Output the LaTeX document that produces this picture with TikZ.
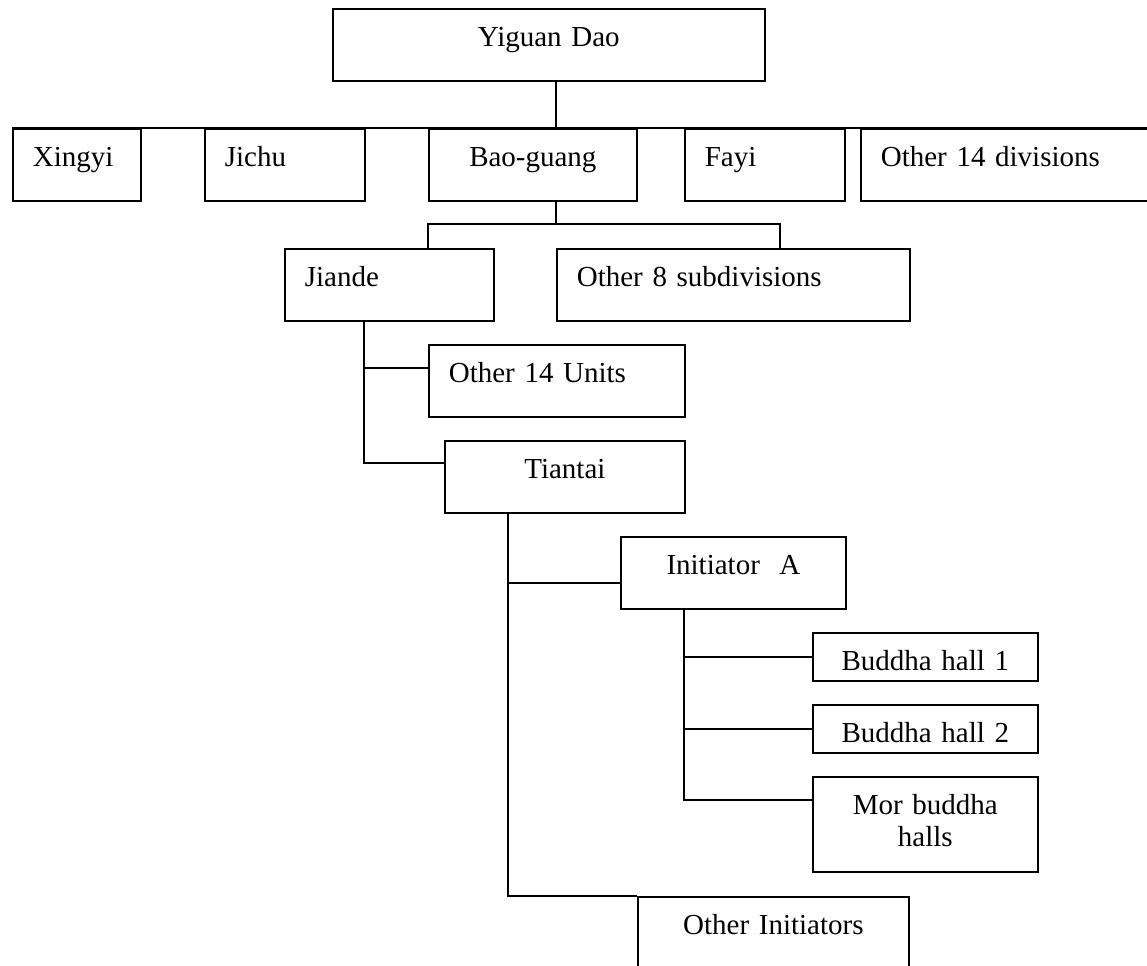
\documentclass[tikz,border=0pt]{standalone}
\usepackage{fontspec}
\setmainfont{Liberation Serif}
\usetikzlibrary{calc}
\tikzset{
  orgbox/.style={draw, line width=1pt, inner sep=0pt, anchor=north west,
    text height=0.76cm, text depth=0.68cm, font=\fontsize{16.5}{18.2}\selectfont},
  cbox/.style={orgbox, align=center},
  lbox/.style={orgbox, align=left, inner xsep=0.4cm},
  link/.style={line width=1pt},
}
\begin{document}
\begin{tikzpicture}[x=0.02cm, y=-0.02cm]%
\useasboundingbox (0,0) rectangle (1147,965);%
% top
\node[cbox, text width=8.64cm] (yiguan) at (332,8) {Yiguan Dao};%
% divisions
\node[lbox, text width=1.76cm] (xingyi) at (12,128) {Xingyi};%
\node[lbox, text width=2.4cm] (jichu) at (204,128) {Jichu};%
\node[cbox, text width=4.16cm] (baoguang) at (428,128) {Bao-guang};%
\node[lbox, text width=2.4cm] (fayi) at (684,128) {Fayi};%
\node[lbox, text width=5.0cm] (otherdiv) at (860,128) {Other 14 divisions};%
% subdivisions
\node[lbox, text width=3.38cm] (jiande) at (284,248) {Jiande};%
\node[lbox, text width=6.26cm] (othersub) at (556,248) {Other 8 subdivisions};%
% units
\node[lbox, text width=4.32cm] (units) at (428,344) {Other 14 Units};%
\node[cbox, text width=4.8cm] (tiantai) at (444,440) {Tiantai};%
% initiators
\node[cbox, text width=4.5cm] (initA) at (620,536) {Initiator~~A};%
\node[cbox, text width=5.42cm, text depth=0.84cm] (otherinit) at (637,896) {Other Initiators};%
% buddha halls
\node[cbox, text width=4.5cm, text depth=0.2cm] (hall1) at (812,632) {Buddha hall 1};%
\node[cbox, text width=4.5cm, text depth=0.2cm] (hall2) at (812,704) {Buddha hall 2};%
\node[cbox, text width=4.5cm, text depth=1.14cm] (morhalls) at (812,776) {Mor buddha\\halls};%
% connectors
\coordinate (divbus) at (556,128);%
\draw[link] (divbus |- yiguan.south) -- (divbus);%
\draw[link] (xingyi.north west) -- (otherdiv.north east);%
\coordinate (subbus) at (556,224);%
\draw[link] (subbus |- baoguang.south) -- (subbus);%
\draw[link] ($(jiande.north west)+(144,0)$) |- (subbus) -| ($(othersub.north west)+(224,0)$);%
\path (jiande.south west) ++(80,0) coordinate (jdspine);%
\path (units.north west) ++(0,24) coordinate (unitsin);%
\path (tiantai.north west) ++(0,23) coordinate (tiantaiin);%
\draw[link] (jdspine) |- (tiantaiin);%
\draw[link] (jdspine |- unitsin) -- (unitsin);%
\path (tiantai.south west) ++(64,0) coordinate (ttspine);%
\path (initA.north west) ++(0,47) coordinate (initAin);%
\draw[link] (ttspine) |- (otherinit.north west);%
\draw[link] (ttspine |- initAin) -- (initAin);%
\path (initA.south west) ++(64,0) coordinate (iaspine);%
\draw[link] (iaspine) |- ($(morhalls.north west)+(0,24)$);%
\foreach \h in {hall1,hall2}
  \draw[link] (iaspine |- \h.west) -- (\h.west);%
\end{tikzpicture}
\end{document}
